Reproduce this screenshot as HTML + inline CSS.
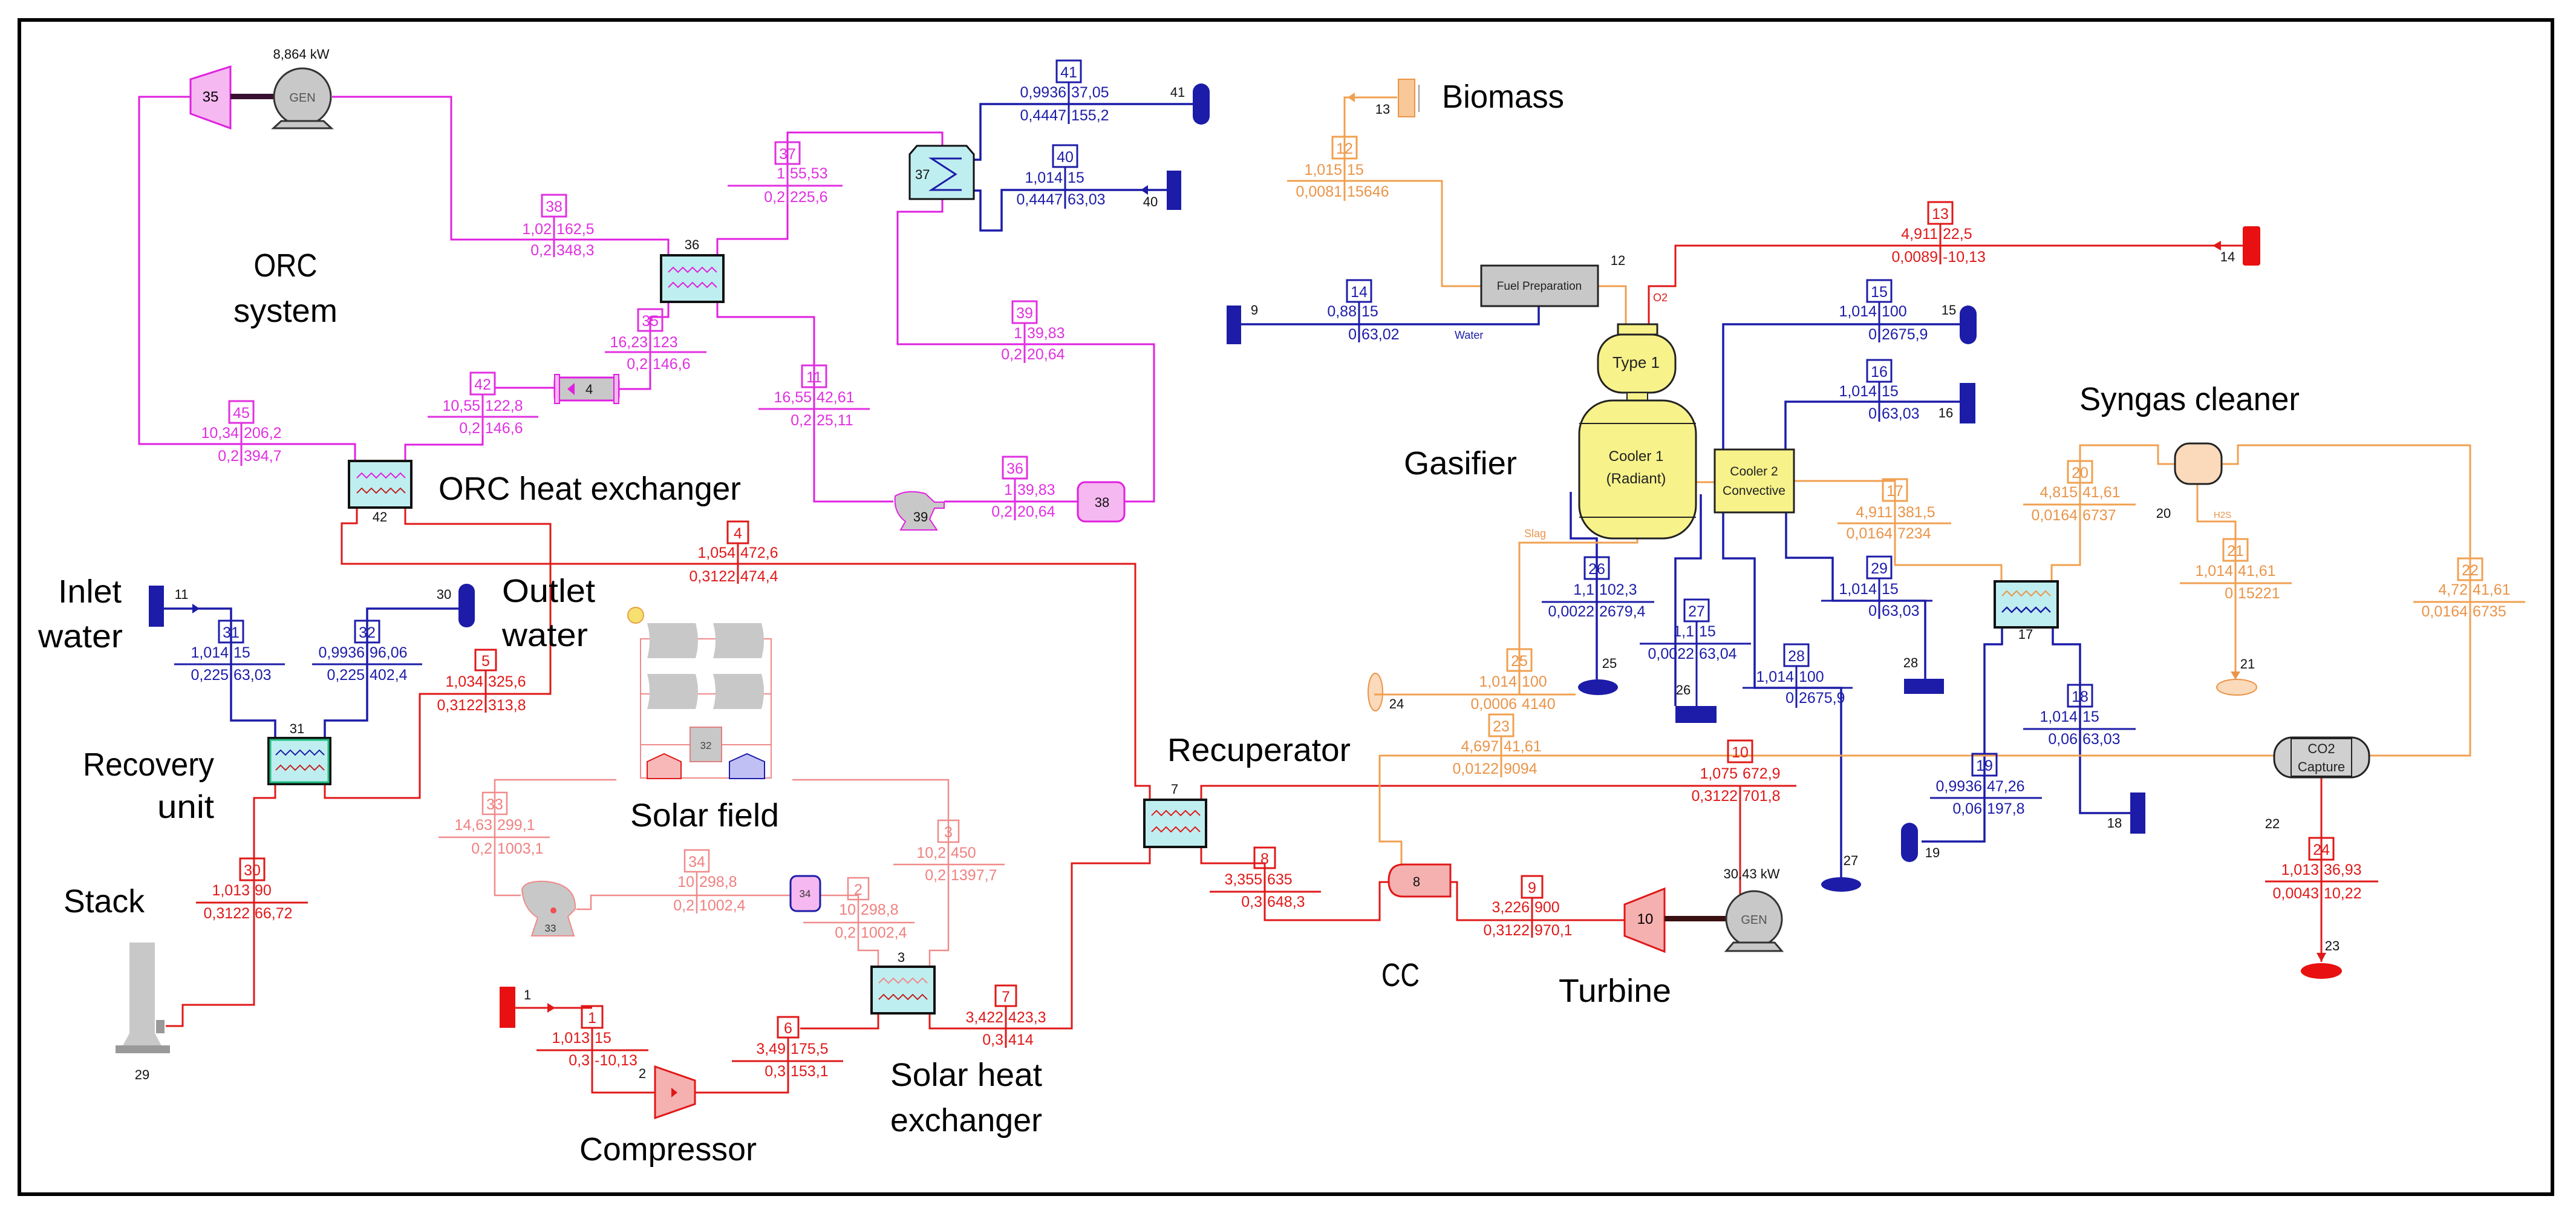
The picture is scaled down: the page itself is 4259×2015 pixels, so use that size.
<!DOCTYPE html>
<html><head><meta charset="utf-8"><style>
html,body{margin:0;padding:0;background:#fff}
svg{display:block}
text{font-family:"Liberation Sans",sans-serif}
.v{font-size:25px}
.e{text-anchor:end}
.c{text-anchor:middle}
.big{font-size:54px;fill:#000}
.sm{font-size:22px;fill:#111}
.m text{fill:#e030e0}.m rect,.m line{stroke:#e030e0;fill:none;stroke-width:3}
.b text{fill:#1c1ca8}.b rect,.b line{stroke:#1c1ca8;fill:none;stroke-width:3}
.r text{fill:#e01818}.r rect,.r line{stroke:#e01818;fill:none;stroke-width:3}
.p text{fill:#f08080}.p rect,.p line{stroke:#f08a8a;fill:none;stroke-width:2.5}
.o text{fill:#ea9448}.o rect,.o line{stroke:#f0a050;fill:none;stroke-width:3}
.pm{stroke:#e020e0;fill:none;stroke-width:3}
.pr{stroke:#e01818;fill:none;stroke-width:3}
.pb{stroke:#1c1ca8;fill:none;stroke-width:3.5}
.po{stroke:#f0a050;fill:none;stroke-width:3}
.pl{stroke:#f08a8a;fill:none;stroke-width:2.5}
.hx{fill:#bfeef0;stroke:#111;stroke-width:4}
</style></head><body>
<svg width="4259" height="2015" viewBox="0 0 4259 2015" xmlns="http://www.w3.org/2000/svg">
<rect x="0" y="0" width="4259" height="2015" fill="#fff"/>
<rect x="32" y="33" width="4188" height="1941" fill="none" stroke="#000" stroke-width="6"/>

<!-- magenta pipes -->
<polyline class="pm" points="315,160 230,160 230,734 587,734 587,762"/>
<polyline class="pm" points="549,160 746,160 746,396 1105,396 1105,422"/>
<polyline class="pm" points="1186,422 1186,395 1302,395 1302,219 1558,219 1558,241"/>
<polyline class="pm" points="1558,329 1558,350 1484,350 1484,569 1908,569 1908,829 1859,829"/>
<polyline class="pm" points="1782,829 1561,829"/>
<polyline class="pm" points="1186,499 1186,524 1346,524 1346,829 1477,829"/>
<polyline class="pm" points="1105,499 1105,524 1075,524 1075,643 1023,643"/>
<polyline class="pm" points="917,641 819,641"/>
<polyline class="pm" points="798,651 798,735 670,735 670,762"/>

<!-- red pipes -->
<polyline class="pr" points="590,839 590,865 565,865 565,932 1877,932 1877,1299 1901,1299 1901,1322"/>
<polyline class="pr" points="670,839 670,866 910,866 910,1147 694,1147 694,1319 537,1319 537,1296"/>
<polyline class="pr" points="455,1296 455,1319 420,1319 420,1661 302,1661 302,1696 274,1696"/>
<polyline class="pr" points="1986,1322 1986,1299 2970,1299"/>
<polyline class="pr" points="2877,1299 2877,1519"/>
<polyline class="pr" points="1986,1400 1986,1427 2091,1427 2091,1521 2281,1521 2281,1458 2296,1458"/>
<polyline class="pr" points="2398,1458 2409,1458 2409,1521 2686,1521"/>
<polyline class="pr" points="1901,1400 1901,1427 1772,1427 1772,1700 1537,1700 1537,1675"/>
<polyline class="pr" points="1452,1675 1452,1700 1323,1700"/>
<polyline class="pr" points="1303,1770 1303,1806 1149,1806"/>
<polyline class="pr" points="979,1752 979,1806 1083,1806"/>
<polyline class="pr" points="852,1666 979,1666"/>
<polygon points="905,1658 905,1674 918,1666" fill="#e01818"/>
<polyline class="pr" points="2726,536 2726,473 2770,473 2770,406 3708,406"/>
<polygon points="3672,398 3672,414 3658,406" fill="#e01818"/>
<polyline class="pr" points="3838,1285 3838,1590"/>
<polygon points="3830,1575 3846,1575 3838,1590" fill="#e01818"/>
<text x="2733" y="498" style="font-size:18px;fill:#e01818">O2</text>

<!-- blue pipes -->
<polyline class="pb" points="271,1006 382,1006 382,1191 455,1191 455,1220"/>
<polygon points="318,998 318,1014 330,1006" fill="#1c1ca8"/>
<polyline class="pb" points="537,1220 537,1191 607,1191 607,1006 758,1006"/>
<polyline class="pb" points="1609,264 1621,264 1621,172 1972,172"/>
<polyline class="pb" points="1929,314 1656,314 1656,381 1621,381 1621,315 1609,315"/>
<polygon points="1898,306 1898,322 1886,314" fill="#1c1ca8"/>
<polyline class="pb" points="2052,536 2544,536 2544,506"/>
<polyline class="pb" points="2849,743 2849,536 3240,536"/>
<polyline class="pb" points="2952,743 2952,664 3240,664"/>
<polyline class="pb" points="2597,813 2597,890 2640,890 2640,1123"/>
<polyline class="pb" points="2812,817 2812,923 2770,923 2770,1167"/>
<polyline class="pb" points="2849,847 2849,923 2901,923 2901,1137 3044,1137 3044,1450"/>
<polyline class="pb" points="2953,847 2953,922 3030,922 3030,993 3183,993 3183,1122"/>
<polyline class="pb" points="3310,1037 3310,1065 3281,1065 3281,1391 3177,1391"/>
<polyline class="pb" points="3394,1037 3394,1065 3439,1065 3439,1344 3522,1344"/>
<text x="2405" y="560" style="font-size:18px;fill:#1c1ca8">Water</text>

<!-- orange pipes -->
<polyline class="po" points="2310,161 2223,161 2223,299 2384,299 2384,473 2449,473"/>
<polygon points="2240,153 2240,169 2228,161" fill="#f0a050"/>
<polyline class="po" points="2642,473 2688,473 2688,537"/>
<polyline class="po" points="2804,797 2835,797"/>
<polyline class="po" points="2967,795 3133,795 3133,934 3309,934 3309,961"/>
<polyline class="po" points="3392,961 3392,934 3439,934 3439,736 3568,736 3568,767 3596,767"/>
<polyline class="po" points="3633,800 3633,862 3696,862 3696,1123"/>
<polyline class="po" points="3673,767 3700,767 3700,736 4084,736 4084,1249 3917,1249"/>
<polyline class="po" points="3760,1249 2281,1249 2281,1391 2317,1391 2317,1430"/>
<polyline class="po" points="2707,890 2707,897 2512,897 2512,1148 2286,1148"/>
<text x="2520" y="888" style="font-size:18px;fill:#ea9448">Slag</text>
<text x="3660" y="856" style="font-size:15px;fill:#ea9448">H2S</text>

<!-- light red pipes -->
<polyline class="pl" points="1019,1289 818,1289 818,1480 861,1480"/>
<polyline class="pl" points="953,1503 977,1503 977,1480 1307,1480"/>
<polyline class="pl" points="1356,1480 1419,1480 1419,1571 1452,1571 1452,1598"/>
<polyline class="pl" points="1310,1289 1568,1289 1568,1571 1537,1571 1537,1598"/>

<!-- components -->
<polygon points="315,131 381,110 381,212 315,188" fill="#f5b8f0" stroke="#e020e0" stroke-width="3"/>
<text x="348" y="168" class="c" style="font-size:24px">35</text>
<rect x="381" y="155" width="72" height="9" fill="#3a1030"/>
<circle cx="500" cy="160" r="47" fill="#c8c8c8" stroke="#333" stroke-width="3"/>
<polygon points="465,200 535,200 548,212 452,212" fill="#c8c8c8" stroke="#333" stroke-width="3"/>
<text x="500" y="168" class="c" style="font-size:20px;fill:#555">GEN</text>
<text x="498" y="97" class="c sm">8,864 kW</text>

<rect class="hx" x="577" y="762" width="103" height="77"/>
<path d="M590,790 l8,-8 8,8 8,-8 8,8 8,-8 8,8 8,-8 8,8 8,-8 8,8" stroke="#e020e0" fill="none" stroke-width="2"/>
<path d="M590,815 l8,-8 8,8 8,-8 8,8 8,-8 8,8 8,-8 8,8 8,-8 8,8" stroke="#c02020" fill="none" stroke-width="2"/>
<text x="628" y="862" class="c sm">42</text>

<rect class="hx" x="1093" y="422" width="103" height="77"/>
<path d="M1105,450 l8,-8 8,8 8,-8 8,8 8,-8 8,8 8,-8 8,8 8,-8 8,8" stroke="#e020e0" fill="none" stroke-width="2"/>
<path d="M1105,475 l8,-8 8,8 8,-8 8,8 8,-8 8,8 8,-8 8,8 8,-8 8,8" stroke="#e020e0" fill="none" stroke-width="2"/>
<text x="1144" y="412" class="c sm">36</text>

<path d="M1504,255 l12,-14 82,0 12,14 0,74 -106,0 z" fill="#bfeef0" stroke="#111" stroke-width="3"/>
<path d="M1590,262 L1540,262 L1580,288 L1540,314 L1590,314" stroke="#1c1ca8" fill="none" stroke-width="3"/>
<text x="1513" y="296" class="sm">37</text>

<rect x="917" y="624" width="106" height="38" rx="6" fill="#c8c8c8" stroke="#e020e0" stroke-width="3"/>
<rect x="917" y="619" width="8" height="48" fill="#f5b8f0" stroke="#e020e0" stroke-width="2"/>
<rect x="1015" y="619" width="8" height="48" fill="#f5b8f0" stroke="#e020e0" stroke-width="2"/>
<polygon points="950,633 950,653 938,643" fill="#e020e0"/>
<text x="968" y="651" class="sm">4</text>

<path d="M1480,820 q20,-12 50,-4 l15,14 16,0 0,10 -16,0 -8,18 12,18 -60,0 8,-14 q-20,-15 -17,-42 z" fill="#c8c8c8" stroke="#e020e0" stroke-width="2"/>
<text x="1522" y="862" class="c sm">39</text>
<rect x="1782" y="797" width="77" height="65" rx="12" fill="#f5b8f0" stroke="#e020e0" stroke-width="3"/>
<text x="1822" y="838" class="c sm">38</text>

<rect x="1972" y="138" width="28" height="68" rx="14" fill="#1c1ca8"/>
<text x="1947" y="160" class="c sm">41</text>
<rect x="1929" y="282" width="24" height="65" fill="#1c1ca8"/>
<text x="1902" y="341" class="c sm">40</text>
<rect x="2028" y="505" width="24" height="64" fill="#1c1ca8"/>
<text x="2074" y="520" class="c sm">9</text>

<!-- biomass & gasifier -->
<rect x="2312" y="131" width="27" height="62" fill="#f8c898" stroke="#ea9448" stroke-width="2"/>
<line x1="2346" y1="140" x2="2346" y2="185" stroke="#999" stroke-width="2"/>
<text x="2286" y="188" class="c sm">13</text>
<rect x="2449" y="439" width="193" height="67" fill="#c8c8c8" stroke="#222" stroke-width="3"/>
<text x="2545" y="479" class="c" style="font-size:19px;fill:#222">Fuel Preparation</text>
<text x="2675" y="438" class="c sm">12</text>
<rect x="2675" y="536" width="65" height="17" fill="#f7f28a" stroke="#222" stroke-width="3"/>
<rect x="2642" y="553" width="128" height="96" rx="40" fill="#f7f28a" stroke="#222" stroke-width="3"/>
<text x="2705" y="608" class="c" style="font-size:26px;fill:#222">Type 1</text>
<rect x="2690" y="649" width="34" height="14" fill="#f7f28a" stroke="#222" stroke-width="2"/>
<rect x="2611" y="662" width="193" height="228" rx="55" fill="#f7f28a" stroke="#222" stroke-width="3"/>
<line x1="2611" y1="700" x2="2804" y2="700" stroke="#222" stroke-width="2"/>
<line x1="2611" y1="855" x2="2804" y2="855" stroke="#222" stroke-width="2"/>
<text x="2705" y="762" class="c" style="font-size:24px;fill:#222">Cooler 1</text>
<text x="2705" y="799" class="c" style="font-size:24px;fill:#222">(Radiant)</text>
<rect x="2835" y="743" width="131" height="104" fill="#f7f28a" stroke="#222" stroke-width="3"/>
<text x="2900" y="786" class="c" style="font-size:21px;fill:#222">Cooler 2</text>
<text x="2900" y="818" class="c" style="font-size:21px;fill:#222">Convective</text>

<rect x="3708" y="374" width="29" height="65" rx="4" fill="#e81010"/>
<text x="3683" y="432" class="c sm">14</text>
<rect x="3240" y="505" width="28" height="64" rx="14" fill="#1c1ca8"/>
<text x="3222" y="520" class="c sm">15</text>
<rect x="3240" y="633" width="26" height="67" fill="#1c1ca8"/>
<text x="3217" y="690" class="c sm">16</text>

<rect class="hx" x="3298" y="961" width="104" height="76"/>
<path d="M3310,985 l8,-8 8,8 8,-8 8,8 8,-8 8,8 8,-8 8,8 8,-8 8,8" stroke="#ea9448" fill="none" stroke-width="2"/>
<path d="M3310,1012 l8,-8 8,8 8,-8 8,8 8,-8 8,8 8,-8 8,8 8,-8 8,8" stroke="#1c1ca8" fill="none" stroke-width="2.5"/>
<text x="3349" y="1056" class="c sm">17</text>
<rect x="3596" y="733" width="77" height="67" rx="24" fill="#fbd9bb" stroke="#222" stroke-width="3"/>
<text x="3577" y="856" class="c sm">20</text>
<ellipse cx="3698" cy="1136" rx="33" ry="13" fill="#fbd9bb" stroke="#ea9448" stroke-width="2"/>
<polygon points="3688,1110 3704,1110 3696,1123" fill="#ea9448"/>
<text x="3716" y="1105" class="c sm">21</text>
<rect x="3760" y="1219" width="157" height="66" rx="30" fill="#d0d0d0" stroke="#222" stroke-width="3"/>
<rect x="3788" y="1221" width="100" height="62" fill="none" stroke="#222" stroke-width="2"/>
<text x="3838" y="1245" class="c" style="font-size:22px;fill:#222">CO2</text>
<text x="3838" y="1275" class="c" style="font-size:22px;fill:#222">Capture</text>
<text x="3757" y="1369" class="c sm">22</text>
<ellipse cx="3838" cy="1605" rx="34" ry="13" fill="#e81010"/>
<text x="3856" y="1571" class="c sm">23</text>

<ellipse cx="2642" cy="1136" rx="33" ry="13" fill="#1c1ca8"/>
<text x="2661" y="1104" class="c sm">25</text>
<ellipse cx="2274" cy="1144" rx="12" ry="31" fill="#fbd9bb" stroke="#ea9448" stroke-width="2"/>
<text x="2309" y="1171" class="c sm">24</text>
<rect x="2770" y="1167" width="68" height="28" fill="#1c1ca8"/>
<text x="2783" y="1148" class="c sm">26</text>
<ellipse cx="3044" cy="1462" rx="33" ry="12" fill="#1c1ca8"/>
<text x="3060" y="1430" class="c sm">27</text>
<rect x="3148" y="1122" width="66" height="25" fill="#1c1ca8"/>
<text x="3159" y="1103" class="c sm">28</text>
<rect x="3143" y="1360" width="28" height="65" rx="14" fill="#1c1ca8"/>
<text x="3195" y="1417" class="c sm">19</text>
<rect x="3522" y="1310" width="25" height="68" fill="#1c1ca8"/>
<text x="3496" y="1368" class="c sm">18</text>

<!-- gas turbine section -->
<rect class="hx" x="1892" y="1322" width="102" height="78"/>
<path d="M1904,1348 l8,-8 8,8 8,-8 8,8 8,-8 8,8 8,-8 8,8 8,-8 8,8" stroke="#e01818" fill="none" stroke-width="2"/>
<path d="M1904,1375 l8,-8 8,8 8,-8 8,8 8,-8 8,8 8,-8 8,8 8,-8 8,8" stroke="#e01818" fill="none" stroke-width="2"/>
<text x="1942" y="1312" class="c sm">7</text>
<path d="M2320,1429 L2398,1429 L2398,1482 L2320,1482 Q2296,1482 2296,1456 Q2296,1429 2320,1429 z" fill="#f5b0b0" stroke="#e01818" stroke-width="3"/>
<text x="2342" y="1465" class="c sm">8</text>
<polygon points="2686,1495 2752,1469 2752,1573 2686,1547" fill="#f5b0b0" stroke="#e01818" stroke-width="3"/>
<text x="2720" y="1527" class="c" style="font-size:24px">10</text>
<rect x="2752" y="1514" width="102" height="9" fill="#3a1010"/>
<circle cx="2900" cy="1519" r="46" fill="#c8c8c8" stroke="#333" stroke-width="3"/>
<polygon points="2866,1558 2934,1558 2946,1572 2854,1572" fill="#c8c8c8" stroke="#333" stroke-width="3"/>
<text x="2900" y="1527" class="c" style="font-size:20px;fill:#555">GEN</text>
<text x="2896" y="1452" class="c sm">30,43 kW</text>

<rect class="hx" x="1441" y="1598" width="104" height="77"/>
<path d="M1453,1625 l8,-8 8,8 8,-8 8,8 8,-8 8,8 8,-8 8,8 8,-8 8,8" stroke="#f08a8a" fill="none" stroke-width="2"/>
<path d="M1453,1652 l8,-8 8,8 8,-8 8,8 8,-8 8,8 8,-8 8,8 8,-8 8,8" stroke="#c02020" fill="none" stroke-width="2"/>
<text x="1490" y="1590" class="c sm">3</text>
<polygon points="1083,1763 1149,1786 1149,1825 1083,1848" fill="#f5b0b0" stroke="#e01818" stroke-width="3"/>
<polygon points="1110,1798 1110,1814 1120,1806" fill="#e01818"/>
<text x="1062" y="1782" class="c sm">2</text>
<rect x="826" y="1631" width="26" height="68" fill="#e81010"/>
<text x="872" y="1652" class="c sm">1</text>

<!-- solar field -->
<circle cx="1051" cy="1017" r="13" fill="#f5e070" stroke="#e8a040" stroke-width="2"/>
<rect x="1059" y="1056" width="216" height="230" fill="none" stroke="#f08a8a" stroke-width="2"/>
<line x1="1059" y1="1147" x2="1275" y2="1147" stroke="#f08a8a" stroke-width="2"/>
<line x1="1059" y1="1231" x2="1275" y2="1231" stroke="#f08a8a" stroke-width="2"/>
<path d="M1070,1030 h80 q8,29 0,58 h-80 q8,-29 0,-58 z" fill="#c8c8c8"/>
<path d="M1179,1030 h80 q8,29 0,58 h-80 q8,-29 0,-58 z" fill="#c8c8c8"/>
<path d="M1070,1114 h80 q8,29 0,58 h-80 q8,-29 0,-58 z" fill="#c8c8c8"/>
<path d="M1179,1114 h80 q8,29 0,58 h-80 q8,-29 0,-58 z" fill="#c8c8c8"/>
<rect x="1141" y="1202" width="52" height="57" fill="#c8c8c8" stroke="#e08080" stroke-width="2"/>
<text x="1167" y="1238" class="c" style="font-size:17px;fill:#444">32</text>
<path d="M1070,1287 v-28 l28,-13 28,13 v28 z" fill="#f8b8b8" stroke="#e01818" stroke-width="2"/>
<path d="M1206,1287 v-28 l29,-13 29,13 v28 z" fill="#c0c0f5" stroke="#1c1ca8" stroke-width="2"/>
<path d="M863,1470 q5,-15 40,-13 q50,5 48,46 l-12,12 10,32 -70,0 10,-30 q-24,-15 -26,-47 z" fill="#c8c8c8" stroke="#f08a8a" stroke-width="2"/>
<circle cx="915" cy="1505" r="5" fill="#f05050"/>
<text x="910" y="1540" class="c" style="font-size:17px;fill:#333">33</text>
<rect x="1307" y="1448" width="49" height="58" rx="10" fill="#f5b8f0" stroke="#1c1ca8" stroke-width="3"/>
<text x="1331" y="1483" class="c" style="font-size:17px;fill:#333">34</text>

<!-- recovery/stack -->
<rect x="444" y="1220" width="102" height="76" fill="#bfeef0" stroke="#111" stroke-width="4"/>
<rect x="447" y="1223" width="96" height="70" fill="none" stroke="#20c080" stroke-width="3"/>
<path d="M456,1248 l8,-8 8,8 8,-8 8,8 8,-8 8,8 8,-8 8,8 8,-8 8,8" stroke="#1c1ca8" fill="none" stroke-width="2"/>
<path d="M456,1273 l8,-8 8,8 8,-8 8,8 8,-8 8,8 8,-8 8,8 8,-8 8,8" stroke="#c02020" fill="none" stroke-width="2"/>
<text x="491" y="1212" class="c sm">31</text>
<rect x="246" y="968" width="25" height="68" fill="#1c1ca8"/>
<text x="300" y="990" class="c sm">11</text>
<rect x="758" y="965" width="27" height="72" rx="13" fill="#1c1ca8"/>
<text x="734" y="990" class="c sm">30</text>
<rect x="214" y="1558" width="42" height="150" fill="#c8c8c8"/>
<polygon points="214,1708 256,1708 270,1734 200,1734" fill="#c8c8c8"/>
<rect x="191" y="1728" width="90" height="13" fill="#999"/>
<rect x="258" y="1686" width="14" height="22" fill="#999"/>
<text x="235" y="1784" class="c sm">29</text>

<!-- stream labels -->
<g class="m v">
<g><rect x="896" y="322" width="40" height="36"/><text x="916" y="350" class="c">38</text><text x="912" y="387" class="e">1,02</text><text x="920" y="387">162,5</text><line x1="916" y1="358" x2="916" y2="425"/><text x="912" y="422" class="e">0,2</text><text x="920" y="422">348,3</text></g>
<g><rect x="1282" y="235" width="40" height="36"/><text x="1302" y="263" class="c">37</text><text x="1298" y="295" class="e">1</text><text x="1306" y="295">55,53</text><line x1="1203" y1="307" x2="1393" y2="307"/><line x1="1302" y1="271" x2="1302" y2="337"/><text x="1298" y="334" class="e">0,2</text><text x="1306" y="334">225,6</text></g>
<g><rect x="1055" y="511" width="40" height="36"/><text x="1075" y="539" class="c">35</text><text x="1071" y="574" class="e">16,23</text><text x="1079" y="574">123</text><line x1="1000" y1="582" x2="1168" y2="582"/><line x1="1075" y1="547" x2="1075" y2="613"/><text x="1071" y="610" class="e">0,2</text><text x="1079" y="610">146,6</text></g>
<g><rect x="778" y="616" width="40" height="36"/><text x="798" y="644" class="c">42</text><text x="794" y="679" class="e">10,55</text><text x="802" y="679">122,8</text><line x1="707" y1="689" x2="890" y2="689"/><line x1="798" y1="652" x2="798" y2="719"/><text x="794" y="716" class="e">0,2</text><text x="802" y="716">146,6</text></g>
<g><rect x="379" y="663" width="40" height="36"/><text x="399" y="691" class="c">45</text><text x="395" y="724" class="e">10,34</text><text x="403" y="724">206,2</text><line x1="399" y1="699" x2="399" y2="770"/><text x="395" y="762" class="e">0,2</text><text x="403" y="762">394,7</text></g>
<g><rect x="1326" y="604" width="40" height="36"/><text x="1346" y="632" class="c">11</text><text x="1342" y="665" class="e">16,55</text><text x="1350" y="665">42,61</text><line x1="1254" y1="676" x2="1438" y2="676"/><text x="1342" y="703" class="e">0,2</text><text x="1350" y="703">25,11</text></g>
<g><rect x="1674" y="498" width="40" height="36"/><text x="1694" y="526" class="c">39</text><text x="1690" y="559" class="e">1</text><text x="1698" y="559">39,83</text><line x1="1694" y1="534" x2="1694" y2="600"/><text x="1690" y="594" class="e">0,2</text><text x="1698" y="594">20,64</text></g>
<g><rect x="1658" y="755" width="40" height="36"/><text x="1678" y="783" class="c">36</text><text x="1674" y="818" class="e">1</text><text x="1682" y="818">39,83</text><line x1="1678" y1="791" x2="1678" y2="860"/><text x="1674" y="854" class="e">0,2</text><text x="1682" y="854">20,64</text></g>
</g>

<g class="b v">
<g><rect x="1747" y="100" width="40" height="36"/><text x="1767" y="128" class="c">41</text><text x="1763" y="161" class="e">0,9936</text><text x="1771" y="161">37,05</text><line x1="1767" y1="136" x2="1767" y2="205"/><text x="1763" y="199" class="e">0,4447</text><text x="1771" y="199">155,2</text></g>
<g><rect x="1741" y="240" width="40" height="36"/><text x="1761" y="268" class="c">40</text><text x="1757" y="302" class="e">1,014</text><text x="1765" y="302">15</text><line x1="1761" y1="276" x2="1761" y2="345"/><text x="1757" y="338" class="e">0,4447</text><text x="1765" y="338">63,03</text></g>
<g><rect x="2227" y="463" width="40" height="36"/><text x="2247" y="491" class="c">14</text><text x="2243" y="523" class="e">0,88</text><text x="2251" y="523">15</text><line x1="2247" y1="499" x2="2247" y2="566"/><text x="2243" y="561" class="e">0</text><text x="2251" y="561">63,02</text></g>
<g><rect x="3087" y="463" width="40" height="36"/><text x="3107" y="491" class="c">15</text><text x="3103" y="523" class="e">1,014</text><text x="3111" y="523">100</text><line x1="3107" y1="499" x2="3107" y2="566"/><text x="3103" y="561" class="e">0</text><text x="3111" y="561">2675,9</text></g>
<g><rect x="3087" y="595" width="40" height="36"/><text x="3107" y="623" class="c">16</text><text x="3103" y="655" class="e">1,014</text><text x="3111" y="655">15</text><line x1="3107" y1="631" x2="3107" y2="697"/><text x="3103" y="692" class="e">0</text><text x="3111" y="692">63,03</text></g>
<g><rect x="2620" y="921" width="40" height="36"/><text x="2640" y="949" class="c">26</text><text x="2636" y="983" class="e">1,1</text><text x="2644" y="983">102,3</text><line x1="2549" y1="995" x2="2735" y2="995"/><text x="2636" y="1019" class="e">0,0022</text><text x="2644" y="1019">2679,4</text></g>
<g><rect x="2785" y="991" width="40" height="36"/><text x="2805" y="1019" class="c">27</text><text x="2801" y="1052" class="e">1,1</text><text x="2809" y="1052">15</text><line x1="2711" y1="1064" x2="2895" y2="1064"/><line x1="2805" y1="1027" x2="2805" y2="1167"/><text x="2801" y="1089" class="e">0,0022</text><text x="2809" y="1089">63,04</text></g>
<g><rect x="2950" y="1065" width="40" height="36"/><text x="2970" y="1093" class="c">28</text><text x="2966" y="1127" class="e">1,014</text><text x="2974" y="1127">100</text><line x1="2881" y1="1137" x2="3063" y2="1137"/><line x1="2970" y1="1101" x2="2970" y2="1170"/><text x="2966" y="1162" class="e">0</text><text x="2974" y="1162">2675,9</text></g>
<g><rect x="3087" y="920" width="40" height="36"/><text x="3107" y="948" class="c">29</text><text x="3103" y="982" class="e">1,014</text><text x="3111" y="982">15</text><line x1="3011" y1="993" x2="3195" y2="993"/><line x1="3107" y1="956" x2="3107" y2="1023"/><text x="3103" y="1018" class="e">0</text><text x="3111" y="1018">63,03</text></g>
<g><rect x="362" y="1026" width="40" height="36"/><text x="382" y="1054" class="c">31</text><text x="378" y="1087" class="e">1,014</text><text x="386" y="1087">15</text><line x1="288" y1="1098" x2="471" y2="1098"/><text x="378" y="1124" class="e">0,225</text><text x="386" y="1124">63,03</text></g>
<g><rect x="587" y="1026" width="40" height="36"/><text x="607" y="1054" class="c">32</text><text x="603" y="1087" class="e">0,9936</text><text x="611" y="1087">96,06</text><line x1="516" y1="1098" x2="698" y2="1098"/><text x="603" y="1124" class="e">0,225</text><text x="611" y="1124">402,4</text></g>
<g><rect x="3261" y="1246" width="40" height="36"/><text x="3281" y="1274" class="c">19</text><text x="3277" y="1308" class="e">0,9936</text><text x="3285" y="1308">47,26</text><line x1="3191" y1="1319" x2="3376" y2="1319"/><text x="3277" y="1345" class="e">0,06</text><text x="3285" y="1345">197,8</text></g>
<g><rect x="3419" y="1132" width="40" height="36"/><text x="3439" y="1160" class="c">18</text><text x="3435" y="1193" class="e">1,014</text><text x="3443" y="1193">15</text><line x1="3345" y1="1205" x2="3531" y2="1205"/><text x="3435" y="1230" class="e">0,06</text><text x="3443" y="1230">63,03</text></g>
</g>

<g class="r v">
<g><rect x="3188" y="334" width="40" height="36"/><text x="3208" y="362" class="c">13</text><text x="3204" y="395" class="e">4,911</text><text x="3212" y="395">22,5</text><line x1="3208" y1="370" x2="3208" y2="437"/><text x="3204" y="433" class="e">0,0089</text><text x="3212" y="433">-10,13</text></g>
<g><rect x="1203" y="862" width="34" height="36"/><text x="1220" y="890" class="c">4</text><text x="1216" y="922" class="e">1,054</text><text x="1224" y="922">472,6</text><line x1="1220" y1="898" x2="1220" y2="965"/><text x="1216" y="961" class="e">0,3122</text><text x="1224" y="961">474,4</text></g>
<g><rect x="786" y="1074" width="34" height="34"/><text x="803" y="1101" class="c">5</text><text x="799" y="1135" class="e">1,034</text><text x="807" y="1135">325,6</text><line x1="803" y1="1108" x2="803" y2="1178"/><text x="799" y="1174" class="e">0,3122</text><text x="807" y="1174">313,8</text></g>
<g><rect x="397" y="1419" width="40" height="36"/><text x="417" y="1447" class="c">30</text><text x="413" y="1480" class="e">1,013</text><text x="421" y="1480">90</text><line x1="324" y1="1492" x2="509" y2="1492"/><text x="413" y="1518" class="e">0,3122</text><text x="421" y="1518">66,72</text></g>
<g><rect x="2857" y="1224" width="40" height="36"/><text x="2877" y="1252" class="c">10</text><text x="2873" y="1287" class="e">1,075</text><text x="2881" y="1287">672,9</text><text x="2873" y="1324" class="e">0,3122</text><text x="2881" y="1324">701,8</text></g>
<g><rect x="2074" y="1401" width="34" height="34"/><text x="2091" y="1428" class="c">8</text><text x="2087" y="1462" class="e">3,355</text><text x="2095" y="1462">635</text><line x1="2000" y1="1474" x2="2184" y2="1474"/><text x="2087" y="1499" class="e">0,3</text><text x="2095" y="1499">648,3</text></g>
<g><rect x="2516" y="1448" width="34" height="36"/><text x="2533" y="1476" class="c">9</text><text x="2529" y="1508" class="e">3,226</text><text x="2537" y="1508">900</text><line x1="2533" y1="1484" x2="2533" y2="1550"/><text x="2529" y="1546" class="e">0,3122</text><text x="2537" y="1546">970,1</text></g>
<g><rect x="1646" y="1629" width="34" height="34"/><text x="1663" y="1656" class="c">7</text><text x="1659" y="1690" class="e">3,422</text><text x="1667" y="1690">423,3</text><line x1="1663" y1="1663" x2="1663" y2="1732"/><text x="1659" y="1727" class="e">0,3</text><text x="1667" y="1727">414</text></g>
<g><rect x="1286" y="1681" width="34" height="34"/><text x="1303" y="1708" class="c">6</text><text x="1299" y="1742" class="e">3,49</text><text x="1307" y="1742">175,5</text><line x1="1210" y1="1754" x2="1394" y2="1754"/><line x1="1303" y1="1715" x2="1303" y2="1806"/><text x="1299" y="1779" class="e">0,3</text><text x="1307" y="1779">153,1</text></g>
<g><rect x="962" y="1663" width="34" height="36"/><text x="979" y="1691" class="c">1</text><text x="975" y="1724" class="e">1,013</text><text x="983" y="1724">15</text><line x1="887" y1="1736" x2="1072" y2="1736"/><line x1="979" y1="1699" x2="979" y2="1806"/><text x="975" y="1761" class="e">0,3</text><text x="983" y="1761">-10,13</text></g>
<g><rect x="3818" y="1385" width="40" height="36"/><text x="3838" y="1413" class="c">24</text><text x="3834" y="1446" class="e">1,013</text><text x="3842" y="1446">36,93</text><line x1="3745" y1="1457" x2="3932" y2="1457"/><text x="3834" y="1485" class="e">0,0043</text><text x="3842" y="1485">10,22</text></g>
</g>

<g class="p v">
<g><rect x="798" y="1310" width="40" height="36"/><text x="818" y="1338" class="c">33</text><text x="814" y="1372" class="e">14,63</text><text x="822" y="1372">299,1</text><line x1="725" y1="1384" x2="909" y2="1384"/><text x="814" y="1411" class="e">0,2</text><text x="822" y="1411">1003,1</text></g>
<g><rect x="1132" y="1405" width="40" height="36"/><text x="1152" y="1433" class="c">34</text><text x="1148" y="1466" class="e">10</text><text x="1156" y="1466">298,8</text><line x1="1152" y1="1441" x2="1152" y2="1510"/><text x="1148" y="1505" class="e">0,2</text><text x="1156" y="1505">1002,4</text></g>
<g><rect x="1402" y="1451" width="34" height="36"/><text x="1419" y="1479" class="c">2</text><text x="1415" y="1512" class="e">10</text><text x="1423" y="1512">298,8</text><line x1="1328" y1="1525" x2="1512" y2="1525"/><text x="1415" y="1550" class="e">0,2</text><text x="1423" y="1550">1002,4</text></g>
<g><rect x="1551" y="1356" width="34" height="36"/><text x="1568" y="1384" class="c">3</text><text x="1564" y="1418" class="e">10,2</text><text x="1572" y="1418">450</text><line x1="1477" y1="1429" x2="1661" y2="1429"/><text x="1564" y="1455" class="e">0,2</text><text x="1572" y="1455">1397,7</text></g>
</g>

<g class="o v">
<g><rect x="2203" y="226" width="40" height="36"/><text x="2223" y="254" class="c">12</text><text x="2219" y="289" class="e">1,015</text><text x="2227" y="289">15</text><line x1="2128" y1="299" x2="2384" y2="299"/><line x1="2223" y1="262" x2="2223" y2="332"/><text x="2219" y="325" class="e">0,0081</text><text x="2227" y="325">15646</text></g>
<g><rect x="3113" y="792" width="40" height="36"/><text x="3133" y="820" class="c">17</text><text x="3129" y="855" class="e">4,911</text><text x="3137" y="855">381,5</text><line x1="3038" y1="865" x2="3226" y2="865"/><text x="3129" y="890" class="e">0,0164</text><text x="3137" y="890">7234</text></g>
<g><rect x="3419" y="762" width="40" height="36"/><text x="3439" y="790" class="c">20</text><text x="3435" y="822" class="e">4,815</text><text x="3443" y="822">41,61</text><line x1="3345" y1="834" x2="3531" y2="834"/><text x="3435" y="860" class="e">0,0164</text><text x="3443" y="860">6737</text></g>
<g><rect x="3676" y="891" width="40" height="36"/><text x="3696" y="919" class="c">21</text><text x="3692" y="952" class="e">1,014</text><text x="3700" y="952">41,61</text><line x1="3604" y1="964" x2="3789" y2="964"/><text x="3692" y="989" class="e">0</text><text x="3700" y="989">15221</text></g>
<g><rect x="4064" y="923" width="40" height="36"/><text x="4084" y="951" class="c">22</text><text x="4080" y="983" class="e">4,72</text><text x="4088" y="983">41,61</text><line x1="3990" y1="995" x2="4175" y2="995"/><text x="4080" y="1019" class="e">0,0164</text><text x="4088" y="1019">6735</text></g>
<g><rect x="2492" y="1073" width="40" height="36"/><text x="2512" y="1101" class="c">25</text><text x="2508" y="1135" class="e">1,014</text><text x="2516" y="1135">100</text><line x1="2272" y1="1148" x2="2605" y2="1148"/><text x="2508" y="1172" class="e">0,0006</text><text x="2516" y="1172">4140</text></g>
<g><rect x="2462" y="1181" width="40" height="36"/><text x="2482" y="1209" class="c">23</text><text x="2478" y="1242" class="e">4,697</text><text x="2486" y="1242">41,61</text><line x1="2482" y1="1217" x2="2482" y2="1285"/><text x="2478" y="1279" class="e">0,0122</text><text x="2486" y="1279">9094</text></g>
</g>

<!-- big labels -->
<text x="472" y="457" class="big c" textLength="105" lengthAdjust="spacingAndGlyphs">ORC</text>
<text x="472" y="532" class="big c" textLength="172" lengthAdjust="spacingAndGlyphs">system</text>
<text x="725" y="826" class="big" textLength="500" lengthAdjust="spacingAndGlyphs">ORC heat exchanger</text>
<text x="96" y="996" class="big" textLength="105" lengthAdjust="spacingAndGlyphs">Inlet</text>
<text x="63" y="1070" class="big" textLength="140" lengthAdjust="spacingAndGlyphs">water</text>
<text x="830" y="995" class="big" textLength="154" lengthAdjust="spacingAndGlyphs">Outlet</text>
<text x="830" y="1068" class="big" textLength="142" lengthAdjust="spacingAndGlyphs">water</text>
<text x="137" y="1282" class="big" textLength="217" lengthAdjust="spacingAndGlyphs">Recovery</text>
<text x="260" y="1352" class="big" textLength="94" lengthAdjust="spacingAndGlyphs">unit</text>
<text x="105" y="1508" class="big" textLength="134" lengthAdjust="spacingAndGlyphs">Stack</text>
<text x="1042" y="1366" class="big" textLength="246" lengthAdjust="spacingAndGlyphs">Solar field</text>
<text x="958" y="1918" class="big" textLength="293" lengthAdjust="spacingAndGlyphs">Compressor</text>
<text x="1472" y="1795" class="big" textLength="251" lengthAdjust="spacingAndGlyphs">Solar heat</text>
<text x="1472" y="1870" class="big" textLength="251" lengthAdjust="spacingAndGlyphs">exchanger</text>
<text x="1930" y="1258" class="big" textLength="303" lengthAdjust="spacingAndGlyphs">Recuperator</text>
<text x="2284" y="1630" class="big" textLength="63" lengthAdjust="spacingAndGlyphs">CC</text>
<text x="2577" y="1656" class="big" textLength="186" lengthAdjust="spacingAndGlyphs">Turbine</text>
<text x="2321" y="784" class="big" textLength="187" lengthAdjust="spacingAndGlyphs">Gasifier</text>
<text x="2384" y="178" class="big" textLength="202" lengthAdjust="spacingAndGlyphs">Biomass</text>
<text x="3438" y="678" class="big" textLength="364" lengthAdjust="spacingAndGlyphs">Syngas cleaner</text>
</svg>
</body></html>
